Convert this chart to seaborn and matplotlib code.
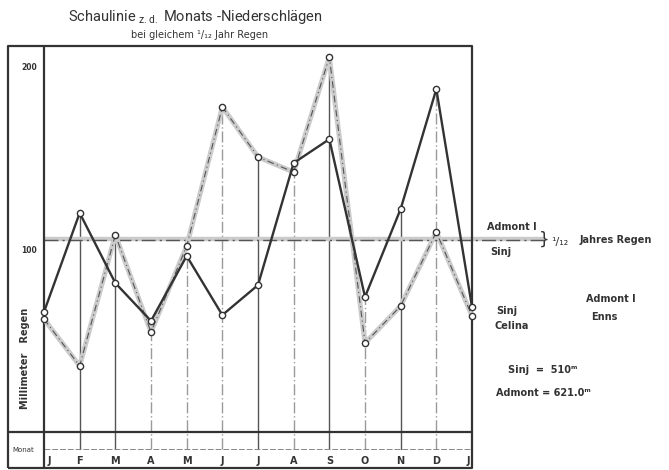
import numpy as np
import pandas as pd
import matplotlib
matplotlib.use("Agg")
import matplotlib.pyplot as plt
import seaborn as sns

# Monthly precipitation (mm), January to January
months = ["J", "F", "M", "A", "M", "J", "J", "A", "S", "O", "N", "D", "J"]
sinj = [65.6, 119.7, 81.4, 60.7, 96.2, 63.9, 80.3, 147.0, 160.0, 73.8, 121.9, 187.4, 68.3]
admont = [61.7, 36.1, 107.7, 54.6, 101.6, 177.6, 150.3, 142.0, 204.9, 48.6, 68.9, 109.3, 63.4]
y_ticks = [100, 200]

sns.set_theme(style="white")
plt.rcParams["font.family"] = ["DejaVu Sans"]

DARK = "#333333"
LIGHT = "#cbcbcb"

fig = plt.figure(figsize=(6.69, 4.70), dpi=100)
fig.patch.set_facecolor("white")
ax = fig.add_axes([0, 0, 1, 1])

# sheet scale: one month = STEP px, one millimetre = MM px
STEP = 35.667
MM = 1.83
X0, Y0 = 44, 432
ax.set_xlim(-X0 / STEP, (669 - X0) / STEP)
ax.set_ylim(-(470 - Y0) / MM, Y0 / MM)
ax.axis("off")


def sx(px):
    return (px - X0) / STEP


def sy(py):
    return (Y0 - py) / MM


df = pd.DataFrame({
    "m": list(range(len(months))) * 2,
    "mm": sinj + admont,
    "station": ["Sinj"] * len(months) + ["Admont"] * len(months),
})
d_sinj = df[df.station == "Sinj"]
d_adm = df[df.station == "Admont"]

# frame of the sheet
top, bottom, left = sy(46), sy(468), sx(8)
n = len(months) - 1
frame_kw = dict(color=DARK, lw=1.6, solid_capstyle="butt", zorder=5)
ax.plot([left, n, n, left, left], [bottom, bottom, top, top, bottom], **frame_kw)
ax.plot([0, 0], [bottom, top], **frame_kw)
ax.plot([left, n], [0, 0], **frame_kw)
ax.plot([0, n], [sy(449), sy(449)], color="#888888", lw=0.7, ls=(0, (6, 2)), zorder=4)

# month verticals up to the higher of the two values
solid_months = {1, 2, 6, 8, 10}
for i in range(1, n):
    top_i = max(sinj[i], admont[i])
    if i in solid_months:
        ax.plot([i, i], [sy(449), top_i], color="#555555", lw=1.0, zorder=2)
    else:
        ax.plot([i, i], [sy(449), top_i], color="#9a9a9a", lw=1.0,
                ls=(0, (8, 2, 1, 2)), zorder=2)

# 1/12 of the yearly total for each station
mean_adm = float(np.mean(admont[:12]))
mean_sinj = float(np.mean(sinj[:12]))
x_end = sx(545)
ax.plot([0, x_end], [mean_adm, mean_adm], color=LIGHT, lw=3.2, zorder=3,
        solid_capstyle="butt")
ax.plot([0, x_end], [mean_sinj, mean_sinj], color="#555555", lw=1.0,
        ls=(0, (10, 3, 1.5, 3)), zorder=3)

# Admont: light band with a dash-dot core
sns.lineplot(data=d_adm, x="m", y="mm", ax=ax, color=LIGHT, lw=3.6,
             sort=False, estimator=None, zorder=6, legend=False)
sns.lineplot(data=d_adm, x="m", y="mm", ax=ax, color="#555555", lw=0.8,
             sort=False, estimator=None, zorder=7, legend=False,
             dashes=False, linestyle=(0, (6, 3, 1, 3)),
             marker="o", markersize=4.5, markerfacecolor="white",
             markeredgecolor=DARK, markeredgewidth=1.0)
# Sinj: solid dark line
sns.lineplot(data=d_sinj, x="m", y="mm", ax=ax, color=DARK, lw=1.7,
             sort=False, estimator=None, zorder=8, legend=False,
             marker="o", markersize=4.5, markerfacecolor="white",
             markeredgecolor=DARK, markeredgewidth=1.0)

# tick labels on the left strip
for t in y_ticks:
    ax.text(sx(29), t - 1, str(t), fontsize=5.5, color=DARK, ha="center",
            va="center", fontweight="bold")
ax.text(sx(25), sy(358), "Millimeter   Regen", rotation=90, fontsize=7,
        color=DARK, ha="center", va="center", fontweight="bold")
ax.text(sx(23), sy(450), "Monat", fontsize=5, color=DARK, ha="center",
        va="center")

# month names
for i, m in enumerate(months):
    x = i
    if i == 0:
        x = sx(49)
    elif i == n:
        x = sx(468)
    ax.text(x, sy(461), m, fontsize=7, color=DARK, ha="center", va="center",
            fontweight="bold")

# titles
ax.text(sx(195), sy(17), "Schaulinie $_{\\mathregular{z.d.}}$ Monats -Niederschlägen",
        fontsize=10.5, color=DARK, ha="center", va="center",
        family=["Roboto", "DejaVu Sans"])
ax.text(sx(200), sy(35), "bei gleichem ¹/₁₂ Jahr Regen", fontsize=7,
        color=DARK, ha="center", va="center")

# notes on the right
note = dict(color=DARK, fontsize=7, fontweight="bold", va="center")
ax.text(sx(487), sy(227), "Admont I", ha="left", **note)
ax.text(sx(490), sy(252), "Sinj", ha="left", **note)
ax.text(sx(544), sy(240), "}", ha="center", color=DARK, fontsize=12, va="center")
ax.text(sx(560), sy(242), "¹/₁₂", ha="center", color=DARK, fontsize=8, va="center")
ax.text(sx(580), sy(240), "Jahres Regen", ha="left", **note)
ax.text(sx(507), sy(311), "Sinj", ha="center", **note)
ax.text(sx(512), sy(326), "Celina", ha="center", **note)
ax.text(sx(611), sy(299), "Admont I", ha="center", **note)
ax.text(sx(604), sy(317), "Enns", ha="center", **note)
ax.text(sx(508), sy(370), "Sinj  =  510ᵐ", ha="left", **note)
ax.text(sx(496), sy(393), "Admont = 621.0ᵐ", ha="left", **note)

fig.savefig("out.png", dpi=100, facecolor="white")
